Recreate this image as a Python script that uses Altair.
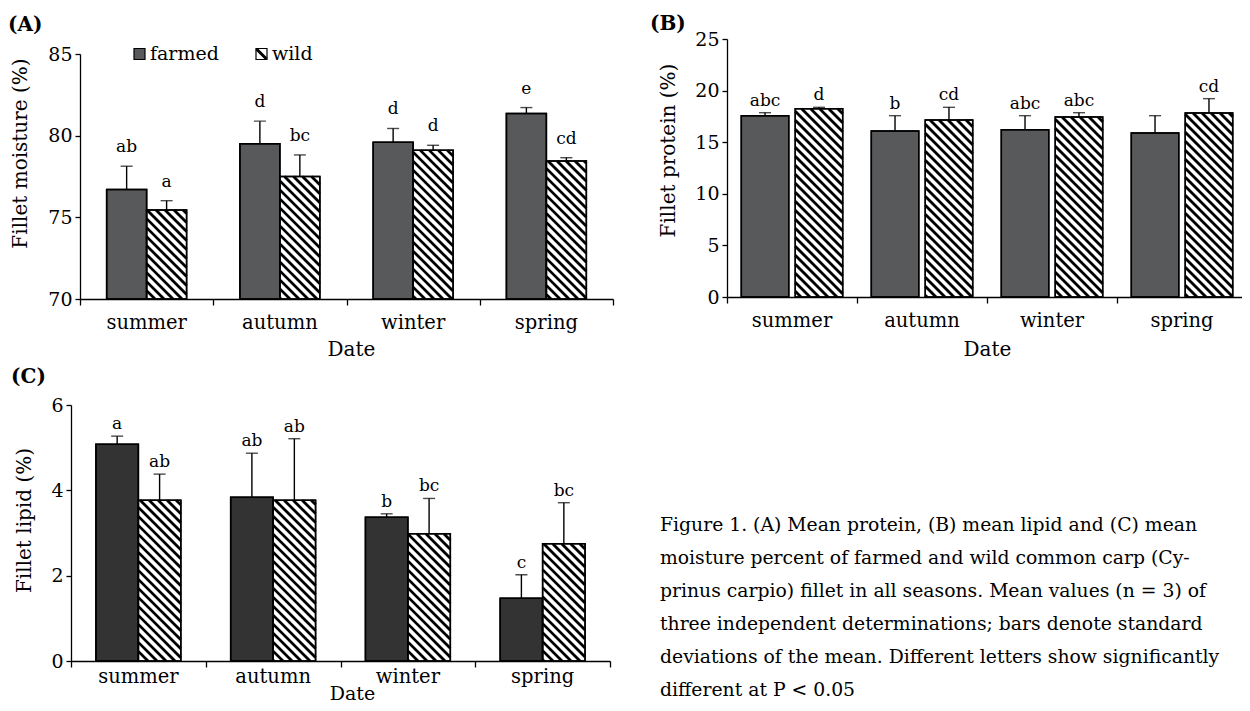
import math
import altair as alt
import pandas as pd

SERIF = "DejaVu Serif"
W, H = 1234, 695

seasons = ["summer", "autumn", "winter", "spring"]
groups = ["farmed", "wild"]

# (A) fillet moisture (%)
moisture_farmed = [76.7, 79.5, 79.6, 81.35]
moisture_wild = [75.45, 77.5, 79.1, 78.45]
moisture_farmed_sd = [1.43, 1.39, 0.84, 0.37]
moisture_wild_sd = [0.57, 1.32, 0.31, 0.20]
moisture_farmed_letters = ["ab", "d", "d", "e"]
moisture_wild_letters = ["a", "bc", "d", "cd"]

# (B) fillet protein (%)
protein_farmed = [17.57, 16.08, 16.21, 15.89]
protein_wild = [18.25, 17.15, 17.44, 17.83]
protein_farmed_sd = [0.29, 1.49, 1.36, 1.68]
protein_wild_sd = [0.13, 1.23, 0.42, 1.39]
protein_farmed_letters = ["abc", "b", "abc", ""]
protein_wild_letters = ["d", "cd", "abc", "cd"]

# (C) fillet lipid (%)
lipid_farmed = [5.08, 3.84, 3.37, 1.47]
lipid_wild = [3.77, 3.77, 2.98, 2.75]
lipid_farmed_sd = [0.19, 1.03, 0.08, 0.55]
lipid_wild_sd = [0.61, 1.44, 0.83, 0.96]
lipid_farmed_letters = ["a", "ab", "b", "c"]
lipid_wild_letters = ["ab", "ab", "bc", "bc"]

caption_lines = [
    "Figure 1. (A) Mean protein, (B) mean lipid and (C) mean",
    "moisture percent of farmed and wild common carp (Cy-",
    "prinus carpio) fillet in all seasons. Mean values (n = 3) of",
    "three independent determinations; bars denote standard",
    "deviations of the mean. Different letters show significantly",
    "different at P < 0.05",
]


def hatch_segments(ul, ur, vt, vb, p=9.0):
    segs = []
    cmin, cmax = vt - ur, vb - ul
    for k in range(math.floor(cmin / p), math.ceil(cmax / p) + 1):
        c = k * p
        us = max(ul, vt - c)
        ue = min(ur, vb - c)
        if ue - us > 0.8:
            segs.append((us, us + c, ue, ue + c))
    return segs


def panel(cfg, farmed, wild, farmed_sd, wild_sd, farmed_let, wild_let):
    x0p, x1p = cfg["xrange"]
    ybp, ytp = cfg["yrange"]
    ymin, ymax = cfg["ydomain"]
    pxx = (x1p - x0p) / len(seasons)
    pxy = (ybp - ytp) / (ymax - ymin)
    rows, hatch = [], []
    for i, s in enumerate(seasons):
        for g, vals, sds, lets in (("farmed", farmed, farmed_sd, farmed_let),
                                   ("wild", wild, wild_sd, wild_let)):
            l, r = cfg["bars"][g]
            v, sd = vals[i], sds[i]
            rows.append(dict(season=s, type=g, value=v, top=v + sd, base=ymin,
                             x0=i + l, x1=i + r, xc=i + (l + r) / 2, label=lets[i]))
            if g == "wild":
                ul, ur = x0p + (i + l) * pxx, x0p + (i + r) * pxx
                vt, vb = ybp - (v - ymin) * pxy, ybp
                for ua, va, ub, vb2 in hatch_segments(ul, ur, vt, vb):
                    hatch.append(dict(hx0=(ua - x0p) / pxx, hy0=ymin + (ybp - va) / pxy,
                                      hx1=(ub - x0p) / pxx, hy1=ymin + (ybp - vb2) / pxy))
    df = pd.DataFrame(rows)
    hdf = pd.DataFrame(hatch)
    sdf = pd.DataFrame({"season": seasons, "mid": [i + 0.5 for i in range(len(seasons))]})

    xs = alt.Scale(domain=[0, len(seasons)], range=[x0p, x1p], nice=False, zero=False)
    ys = alt.Scale(domain=[ymin, ymax], range=[ybp, ytp], nice=False, zero=False)

    xaxis = alt.Axis(orient="bottom", values=list(range(len(seasons) + 1)), labels=False,
                     tickSize=6, tickWidth=1.3, tickColor="black", domainColor="black",
                     domainWidth=1.3, grid=False, offset=ybp - H, title="Date", titleFont=SERIF,
                     titleFontSize=cfg["date_size"], titleFontWeight="normal", titleColor="black",
                     titleX=cfg["date_x"], titleY=cfg["date_dy"], titleAlign="center",
                     titleBaseline="alphabetic")
    yaxis = alt.Axis(orient="left", values=cfg["yticks"], tickSize=5, tickWidth=1.3,
                     tickColor="black", domainColor="black", domainWidth=1.3, grid=False,
                     labelFont=SERIF, labelFontSize=19, labelColor="black", labelPadding=3,
                     labelFlush=False, offset=-x0p, title=cfg["ytitle"], titleFont=SERIF,
                     titleFontSize=20, titleFontWeight="normal", titleColor="black",
                     titleAngle=270, titleX=cfg["ytitle_x"], titleY=cfg["ytitle_y"],
                     titleAlign="center", titleBaseline="middle")

    def X(f):
        return alt.X(f, scale=xs, axis=xaxis)

    def Y(f):
        return alt.Y(f, scale=ys, axis=yaxis)

    base = alt.Chart(df)
    bars = base.mark_rect(stroke="black", strokeWidth=1.5).encode(
        x=X("x0:Q"), x2="x1:Q", y=Y("value:Q"), y2="base:Q",
        fill=alt.condition("datum.type == 'farmed'", alt.value(cfg["dark"]), alt.value("white")),
    )
    hatch_layer = alt.Chart(hdf).mark_rule(color="black", strokeWidth=2.8, strokeCap="butt").encode(
        x=X("hx0:Q"), x2="hx1:Q", y=Y("hy0:Q"), y2="hy1:Q",
    )
    outline = base.mark_rect(fillOpacity=0, stroke="black", strokeWidth=1.5).encode(
        x=X("x0:Q"), x2="x1:Q", y=Y("value:Q"), y2="base:Q",
    )
    err = base.mark_rule(color="black", strokeWidth=1.4).encode(
        x=X("xc:Q"), y=Y("value:Q"), y2="top:Q",
    )
    caps = base.mark_tick(orient="horizontal", size=12, thickness=1.4, color="black").encode(
        x=X("xc:Q"), y=Y("top:Q"),
    )
    letters = base.mark_text(font=SERIF, fontSize=17, color="black", baseline="alphabetic",
                             dy=-cfg["gap"]).encode(
        x=X("xc:Q"), y=Y("top:Q"), text="label:N",
    )
    slabels = alt.Chart(sdf).mark_text(font=SERIF, fontSize=19.5, color="black",
                                       baseline="alphabetic").encode(
        x=X("mid:Q"), y=alt.value(cfg["label_y"]), text="season:N",
    )
    return alt.layer(bars, hatch_layer, outline, err, caps, letters, slabels)


cfgA = dict(xrange=(72, 605), yrange=(291, 46), ydomain=(70, 85), yticks=[70, 75, 80, 85],
            dark="#58595b", bars={"farmed": (0.2, 0.5), "wild": (0.5, 0.8)}, gap=14,
            ytitle="Fillet moisture (%)", ytitle_x=-60, ytitle_y=145,
            label_y=321, date_x=343, date_dy=56, date_size=20)
cfgB = dict(xrange=(719, 1239), yrange=(289, 31), ydomain=(0, 25), yticks=[0, 5, 10, 15, 20, 25],
            dark="#58595b", bars={"farmed": (0.11, 0.475), "wild": (0.525, 0.89)}, gap=7,
            ytitle="Fillet protein (%)", ytitle_x=-59, ytitle_y=142,
            label_y=319, date_x=979, date_dy=58, date_size=20)
cfgC = dict(xrange=(63, 602), yrange=(653, 397), ydomain=(0, 6), yticks=[0, 2, 4, 6],
            dark="#333333", bars={"farmed": (0.185, 0.5), "wild": (0.5, 0.815)}, gap=7,
            ytitle="Fillet lipid (%)", ytitle_x=-47, ytitle_y=512,
            label_y=675, date_x=344, date_dy=38, date_size=19)

pA = panel(cfgA, moisture_farmed, moisture_wild, moisture_farmed_sd, moisture_wild_sd,
           moisture_farmed_letters, moisture_wild_letters)
pB = panel(cfgB, protein_farmed, protein_wild, protein_farmed_sd, protein_wild_sd,
           protein_farmed_letters, protein_wild_letters)
pC = panel(cfgC, lipid_farmed, lipid_wild, lipid_farmed_sd, lipid_wild_sd,
           lipid_farmed_letters, lipid_wild_letters)


def text_at(t, x, y, **kw):
    return alt.Chart(pd.DataFrame({"t": [t]})).mark_text(**kw).encode(
        text="t:N", x=alt.value(x), y=alt.value(y))


tags = [
    text_at("(A)", 0, 17, font=SERIF, fontSize=20, fontWeight="bold", align="left",
            baseline="middle", color="black"),
    text_at("(B)", 642, 16, font=SERIF, fontSize=20, fontWeight="bold", align="left",
            baseline="middle", color="black"),
    text_at("(C)", 3, 369, font=SERIF, fontSize=20, fontWeight="bold", align="left",
            baseline="middle", color="black"),
]

# legend for panel A
legend_farmed_box = alt.Chart(pd.DataFrame({"g": [groups[0]]})).mark_rect(
    fill=cfgA["dark"], stroke="black", strokeWidth=1.2).encode(
    x=alt.value(126), x2=alt.value(137), y=alt.value(40.5), y2=alt.value(51.5))
legend_wild_box = alt.Chart(pd.DataFrame({"g": [groups[1]]})).mark_rect(
    fill="white", stroke="black", strokeWidth=1.2).encode(
    x=alt.value(248), x2=alt.value(259), y=alt.value(40.5), y2=alt.value(51.5))
legend_wild_diag = alt.Chart(pd.DataFrame({"g": [groups[1]]})).mark_rule(
    color="black", strokeWidth=3).encode(
    x=alt.value(248.5), x2=alt.value(258.5), y=alt.value(41), y2=alt.value(51))
legend_texts = [
    text_at(groups[0], 142, 46, font=SERIF, fontSize=19, align="left", baseline="middle",
            color="black"),
    text_at(groups[1], 264, 46, font=SERIF, fontSize=19, align="left", baseline="middle",
            color="black"),
]

caption = alt.Chart(pd.DataFrame({"t": ["\n".join(caption_lines)]})).mark_text(
    font=SERIF, fontSize=18.8, align="left", baseline="alphabetic", color="black",
    lineBreak="\n", lineHeight=33).encode(
    text="t:N", x=alt.value(652), y=alt.value(523))

chart = alt.layer(
    pA, pB, pC, *tags, legend_farmed_box, legend_wild_box, legend_wild_diag,
    *legend_texts, caption
).resolve_scale(x="independent", y="independent").properties(
    width=W, height=H, padding=0, autosize=alt.AutoSizeParams(type="none")
).configure_view(stroke=None)

chart.save("out.html", embed_options={"renderer": "svg", "actions": False})
